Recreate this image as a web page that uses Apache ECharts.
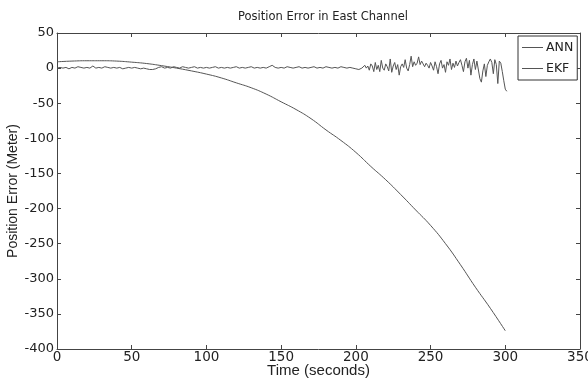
<!DOCTYPE html>
<html><head><meta charset="utf-8">
<script src="https://cdn.jsdelivr.net/npm/echarts@6/dist/echarts.min.js"></script>
<style>html,body{margin:0;padding:0;background:#fff}#c{width:588px;height:378px}</style>
</head><body><div id="c"></div>
<script>
var chartTitle = "Position Error in East Channel";
var xLabel = "Time (seconds)";
var yLabel = "Position Error (Meter)";
var seriesNames = ["ANN", "EKF"];

// Noisy series: t=0..204 step 2, then t=205..301 step 1
var noiseValuesA = [0,1,0,1,-1,1,0,2,1,0,
 1,0,3,0,1,0,2,1,0,1,
 0,1,-1,0,1,0,1,0,-1,0,
 -1,-2,-2,-1,1,2,0,1,0,2,
 1,0,2,1,0,1,2,0,1,0,
 1,0,1,2,0,1,0,1,0,1,
 2,0,1,0,1,2,0,1,0,1,
 0,2,4,1,0,1,0,2,1,0,
 1,2,0,1,0,1,2,0,1,0,
 2,1,0,1,0,2,1,0,1,0,
 -1,-2,0];
var noiseValuesB = [2,4,0,3,-3,6,3,-5,8,-2,
 4,-5,11,0,-3,6,2,-4,13,-6,
 3,8,-2,5,-10,2,6,1,12,0,
 -4,5,17,2,9,4,7,16,5,10,
 6,2,7,4,0,8,3,-3,9,2,
 -8,6,11,0,5,-6,9,4,13,-2,
 7,1,10,3,8,12,4,-5,9,14,
 0,11,-10,5,13,-2,10,9,-15,-20,
 -4,6,-12,4,9,13,8,-8,12,5,
 -22,10,7,-5,-18,-30,-33];

// Drift series: t=0..300 step 10
var driftTimes = [0,10,20,30,40,50,60,70,80,90,100,110,120,130,140,150,160,170,180,190,200,210,220,230,240,250,260,270,280,290,300];
var driftValues = [9,10,10.5,10.5,10,8.5,6.5,3.5,0,-4,-8.5,-14,-21,-28,-37,-48,-59,-72,-88,-103,-120,-140,-159,-180,-202,-224,-250,-280,-312,-342,-374];

var xTicks = {min:0, max:350, interval:50};
var yTicks = {min:-400, max:50, interval:50};

var noiseData = [];
for (var i=0;i<noiseValuesA.length;i++) noiseData.push([i*2, noiseValuesA[i]]);
for (var j=0;j<noiseValuesB.length;j++) noiseData.push([205+j, noiseValuesB[j]]);
var driftData = driftTimes.map(function(t,k){return [t, driftValues[k]];});

var lineCol = '#555';
var axisCol = '#444';
var font = 'DejaVu Sans';
var chart = echarts.init(document.getElementById('c'));
function xAx(pos, show){
  return {type:'value', position:pos, min:xTicks.min, max:xTicks.max, interval:xTicks.interval,
    name: show? xLabel : '', nameLocation:'middle', nameGap:14, nameMoveOverlap:false,
    nameTextStyle:{fontFamily:'Liberation Sans', fontSize:15, color:'#222'},
    axisLine:{show:true, onZero:false, lineStyle:{color:axisCol, width:1}},
    axisTick:{show:true, inside:true, length:4, lineStyle:{color:axisCol}},
    axisLabel:{show:show, color:'#222', fontFamily:font, fontSize:13.5, margin:1},
    splitLine:{show:false}};
}
function yAx(pos, show){
  return {type:'value', position:pos, min:yTicks.min, max:yTicks.max, interval:yTicks.interval,
    name: show? yLabel : '', nameLocation:'middle', nameGap:37, nameRotate:90, nameMoveOverlap:false,
    nameTextStyle:{fontFamily:'Liberation Sans', fontSize:14, color:'#222'},
    axisLine:{show:true, onZero:false, lineStyle:{color:axisCol, width:1}},
    axisTick:{show:true, inside:true, length:4, lineStyle:{color:axisCol}},
    axisLabel:{show:show, color:'#222', fontFamily:font, fontSize:13, margin:3},
    splitLine:{show:false}};
}
chart.setOption({
  animation:false,
  backgroundColor:'#fff',
  title:{text:chartTitle, left:318, top:6, textAlign:'center',
    textStyle:{fontFamily:font, fontSize:11.5, fontWeight:'normal', color:'#222'}},
  grid:{left:57, right:8, top:33, bottom:29, containLabel:false, outerBoundsMode:'none'},
  legend:{orient:'vertical', left:518, top:36, width:58,
    data:seriesNames, icon:'rect', itemWidth:21, itemHeight:1, itemGap:8,
    borderColor:'#333', borderWidth:1, padding:[5,4,5,4], backgroundColor:'#fff',
    textStyle:{fontFamily:font, fontSize:12.5, color:'#222', padding:[0,0,0,-2]}},
  xAxis:[xAx('bottom', true), xAx('top', false)],
  yAxis:[yAx('left', true), yAx('right', false)],
  series:[
    {name:seriesNames[0], type:'line', data:noiseData, showSymbol:false, symbol:'none',
      itemStyle:{color:lineCol}, lineStyle:{color:lineCol, width:1}},
    {name:seriesNames[1], type:'line', data:driftData, showSymbol:false, symbol:'none', smooth:true,
      itemStyle:{color:lineCol}, lineStyle:{color:lineCol, width:1}}
  ]
});
</script></body></html>
